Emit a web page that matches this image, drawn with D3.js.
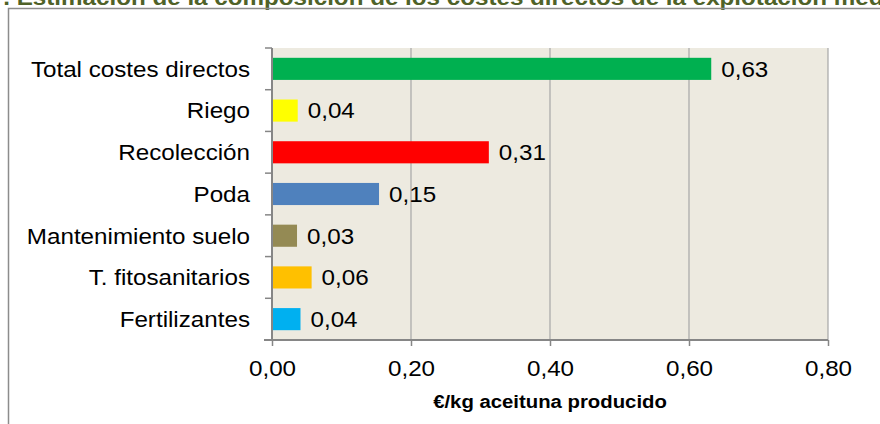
<!DOCTYPE html>
<html><head><meta charset="utf-8">
<script src="https://cdn.jsdelivr.net/npm/d3@7"></script>
<style>body{margin:0;background:#fff}svg{display:block}text{font-family:"Liberation Sans",Arial,sans-serif}</style>
</head><body><svg id="c" width="880" height="424"></svg>
<script>
const categories = ["Total costes directos","Riego","Recolección","Poda","Mantenimiento suelo","T. fitosanitarios","Fertilizantes"];
const values = [0.632,0.037,0.312,0.154,0.036,0.057,0.041];
const valueLabels = ["0,63","0,04","0,31","0,15","0,03","0,06","0,04"];
const colors = ["#00B050","#FFFF00","#FF0000","#4F81BD","#948A54","#FFC000","#00B0F0"];
const xTicks = [0,0.2,0.4,0.6,0.8];
const titlePrefix = "7. ";
const title = "Estimación de la composición de los costes directos de la explotación media";
const xTitle = "€/kg aceituna producido";

const svg = d3.select("#c");
const L=272,R=828,T=48,B=340;
const SX=1.1;
const x = d3.scaleLinear().domain([0,0.8]).range([L,R]);
const y = d3.scaleBand().domain(categories).range([T,B]).paddingInner(0.47).paddingOuter(0.235);

// title (cut off at top)
const tg = svg.append("g").attr("transform",`translate(10,5) scale(${SX},1)`);
const pre = tg.append("text").attr("font-size",22).attr("font-weight","bold").text(titlePrefix);
const pw = pre.node().getComputedTextLength();
pre.remove();
tg.append("text").attr("x",-pw).attr("font-size",22).attr("font-weight","bold")
  .attr("fill","#4F6228").text(titlePrefix+title);
// frame
svg.append("rect").attr("x",8.5).attr("y",8.5).attr("width",900).attr("height",500)
  .attr("fill","none").attr("stroke","#8C8C8C").attr("stroke-width",1.5);
// plot bg
svg.append("rect").attr("x",L).attr("y",T).attr("width",R-L).attr("height",B-T).attr("fill","#EDEAE0");
// gridlines
svg.append("g").selectAll("line").data(xTicks.slice(1)).join("line")
  .attr("x1",d=>x(d)).attr("x2",d=>x(d)).attr("y1",T).attr("y2",B)
  .attr("stroke","#A6A6A6").attr("stroke-width",1.2);
// bars
svg.append("g").selectAll("rect").data(categories).join("rect")
  .attr("x",L).attr("y",d=>y(d)).attr("width",(d,i)=>x(values[i])-L).attr("height",y.bandwidth())
  .attr("fill",(d,i)=>colors[i]);
// value labels
svg.append("g").selectAll("text").data(categories).join("text")
  .attr("transform",(d,i)=>`translate(${x(values[i])+10},${y(d)+y.bandwidth()/2}) scale(${SX},1)`)
  .attr("dy","0.36em")
  .attr("font-size",22).attr("fill","#000").text((d,i)=>valueLabels[i]);
// y axis
const ya = svg.append("g").attr("transform",`translate(${L},0)`);
ya.append("line").attr("x1",0).attr("x2",0).attr("y1",T).attr("y2",B).attr("stroke","#868686").attr("stroke-width",2);
const bounds = d3.range(categories.length+1).map(i=>T+i*y.step());
ya.selectAll("line.t").data(bounds).join("line").attr("class","t")
  .attr("x1",-7).attr("x2",0).attr("y1",d=>d).attr("y2",d=>d).attr("stroke","#868686").attr("stroke-width",1.5);
ya.selectAll("text").data(categories).join("text")
  .attr("transform",d=>`translate(-22,${y(d)+y.bandwidth()/2}) scale(${SX},1)`)
  .attr("dy","0.36em").attr("text-anchor","end")
  .attr("font-size",22).attr("fill","#000").text(d=>d);
// x axis
const xa = svg.append("g").attr("transform",`translate(0,${B})`)
  .call(d3.axisBottom(x).tickValues(xTicks).tickSize(6).tickPadding(14)
    .tickFormat(d=>d3.format(".2f")(d).replace(".",",")));
xa.select(".domain").attr("stroke","#868686").attr("stroke-width",2).attr("d",`M${L-8},0H${R}`);
xa.selectAll(".tick line").attr("stroke","#868686").attr("stroke-width",1.5);
xa.selectAll(".tick text").attr("font-size",22).attr("fill","#000")
  .attr("font-family","'Liberation Sans',Arial,sans-serif")
  .attr("transform",`scale(${SX},1)`);
svg.append("text").attr("transform",`translate(${(L+R)/2},408) scale(1.13,1)`).attr("text-anchor","middle")
  .attr("font-size",18).attr("font-weight","bold").attr("fill","#000").text(xTitle);
</script></body></html>
